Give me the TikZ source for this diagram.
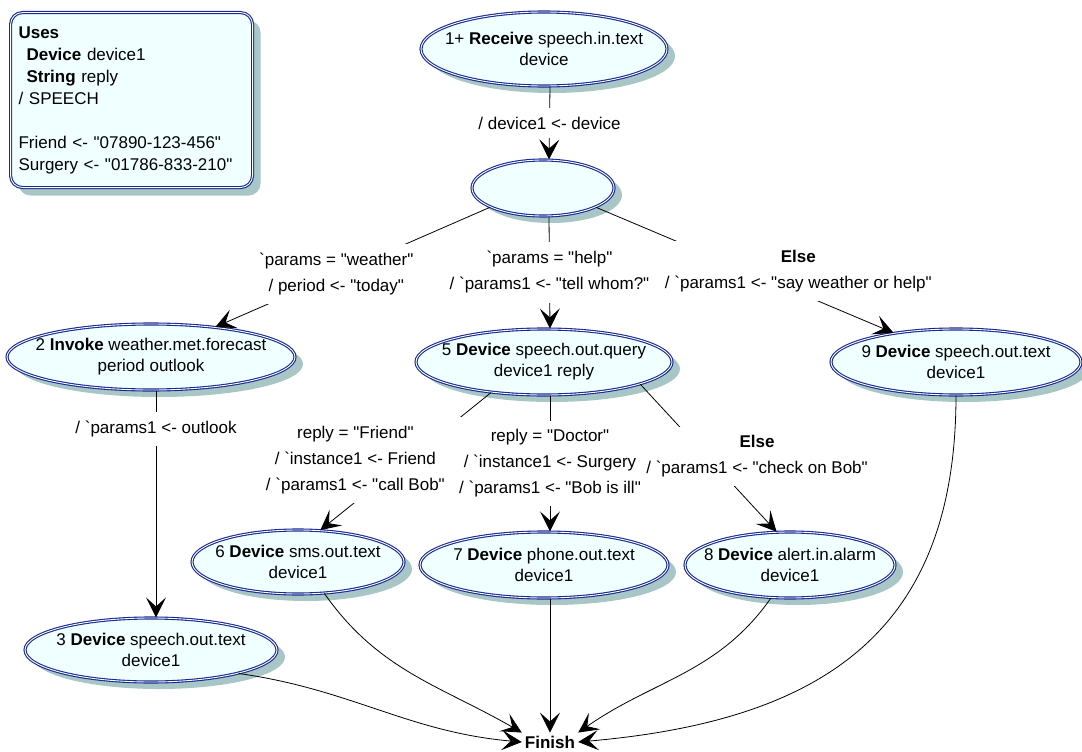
\documentclass[tikz,border=0pt]{standalone}
\usepackage{fontspec}
\setmainfont{Liberation Sans}
\definecolor{stepfill}{RGB}{240,255,255}
\definecolor{stepline}{RGB}{24,42,145}
\definecolor{stepshadow}{RGB}{168,198,198}
\usetikzlibrary{shapes.geometric, arrows.meta, shadows}
\newcommand{\gq}{\textasciigrave}
\newcommand{\dq}{\textquotedbl}

\begin{document}
\begin{tikzpicture}[x=1pt, y=-1pt, font=\fontsize{17}{21}\selectfont,
    stepbox/.style={ellipse, fill=stepfill, draw=stepline, line width=1.1pt, double=white, double distance=0.9pt,
        inner xsep=-150pt, inner ysep=-40pt, align=center,
        drop shadow={shadow xshift=8pt, shadow yshift=-7pt, fill=stepshadow, opacity=1}},
    flow/.style={-{Stealth[length=20pt, width=20pt, inset=9pt]}, line width=0.8pt},
    elabel/.style={fill=white, align=center, inner xsep=6pt, inner ysep=9pt, font=\fontsize{17}{26}\selectfont}]
    \useasboundingbox (0,0) rectangle (1082,752);

    % declarations
    \node[rectangle, rounded corners=12pt, fill=stepfill, draw=stepline, line width=1.1pt, double=white, double distance=0.9pt,
        drop shadow={shadow xshift=8pt, shadow yshift=-8pt, fill=stepshadow, opacity=1},
        anchor=north west, text width=226pt, inner xsep=8pt, minimum height=175pt, align=left,
        font=\fontsize{17}{22}\selectfont] (uses) at (10,12)
        {\textbf{Uses}\\ \hspace*{8pt}\textbf{Device} device1\\ \hspace*{8pt}\textbf{String} reply\\ / SPEECH\\[22pt]
         Friend <- \dq 07890-123-456\dq\\ Surgery <- \dq 01786-833-210\dq};

    % steps
    \node[stepbox, minimum width=246pt, minimum height=74pt] (n1) at (544,49) {1+ \textbf{Receive} speech.in.text\\device};
    \node[stepbox, minimum width=142pt, minimum height=56pt] (n0) at (543,188) {};
    \node[stepbox, minimum width=288pt, minimum height=66pt] (n2) at (151,357) {2 \textbf{Invoke} weather.met.forecast\\period outlook};
    \node[stepbox, minimum width=256pt, minimum height=66pt] (n5) at (544,362) {5 \textbf{Device} speech.out.query\\device1 reply};
    \node[stepbox, minimum width=250pt, minimum height=66pt] (n9) at (956,362) {9 \textbf{Device} speech.out.text\\device1};
    \node[stepbox, minimum width=212pt, minimum height=64pt] (n6) at (298,562) {6 \textbf{Device} sms.out.text\\device1};
    \node[stepbox, minimum width=248pt, minimum height=66pt] (n7) at (544,565) {7 \textbf{Device} phone.out.text\\device1};
    \node[stepbox, minimum width=210pt, minimum height=66pt] (n8) at (790,565) {8 \textbf{Device} alert.in.alarm\\device1};
    \node[stepbox, minimum width=252pt, minimum height=64pt] (n3) at (151,650) {3 \textbf{Device} speech.out.text\\device1};
    \node[font=\bfseries\fontsize{17}{21}\selectfont, inner sep=3pt] (fin) at (550,742) {Finish};

    % transitions
    \draw[flow] ([xshift=6pt]n1.south) -- node[elabel] (l1) {/ device1 <- device} ([xshift=6pt]n0.north);
    \draw[flow] (n0.200) -- node[elabel, pos=0.56] (l2) {\gq params = \dq weather\dq\\/ period <- \dq today\dq} (n2.25);
    \draw[flow] ([xshift=6pt]n0.south) -- node[elabel] (l3) {\gq params = \dq help\dq\\/ \gq params1 <- \dq tell whom?\dq} ([xshift=6pt]n5.north);
    \draw[flow] (n0.-20) -- node[elabel, pos=0.68, yshift=22pt] (l4) {\textbf{Else}\\/ \gq params1 <- \dq say weather or help\dq} (n9.155);
    \draw[flow] ([xshift=5pt]n2.south) -- node[elabel, pos=0.17] (l5) {/ \gq params1 <- outlook} ([xshift=5pt]n3.north);
    \draw[flow] (n5.210) -- node[elabel, pos=0.49, xshift=-52pt, inner xsep=22pt] (l6) {reply = \dq Friend\dq\\/ \gq instance1 <- Friend\\/ \gq params1 <- \dq call Bob\dq} (n6.55);
    \draw[flow] ([xshift=6pt]n5.south) -- node[elabel] (l7) {reply = \dq Doctor\dq\\/ \gq instance1 <- Surgery\\/ \gq params1 <- \dq Bob is ill\dq} ([xshift=6pt]n7.north);
    \draw[flow] (n5.-13) -- node[elabel, pos=0.49, xshift=50pt] (l8) {\textbf{Else}\\/ \gq params1 <- \dq check on Bob\dq} (n8.112);

    % to finish
    \draw[flow] (n3.-15) to[out=-8, in=175] (fin.west);
    \draw[flow] (n6.-50) to[out=-55, in=150] (fin.north west);
    \draw[flow] ([xshift=6pt]n7.south) -- (fin.north);
    \draw[flow] (n8.-120) to[out=-125, in=35] (fin.north east);
    \draw[flow] (n9.-90) to[out=-90, in=5, looseness=1.2] (fin.east);
\end{tikzpicture}
\end{document}
